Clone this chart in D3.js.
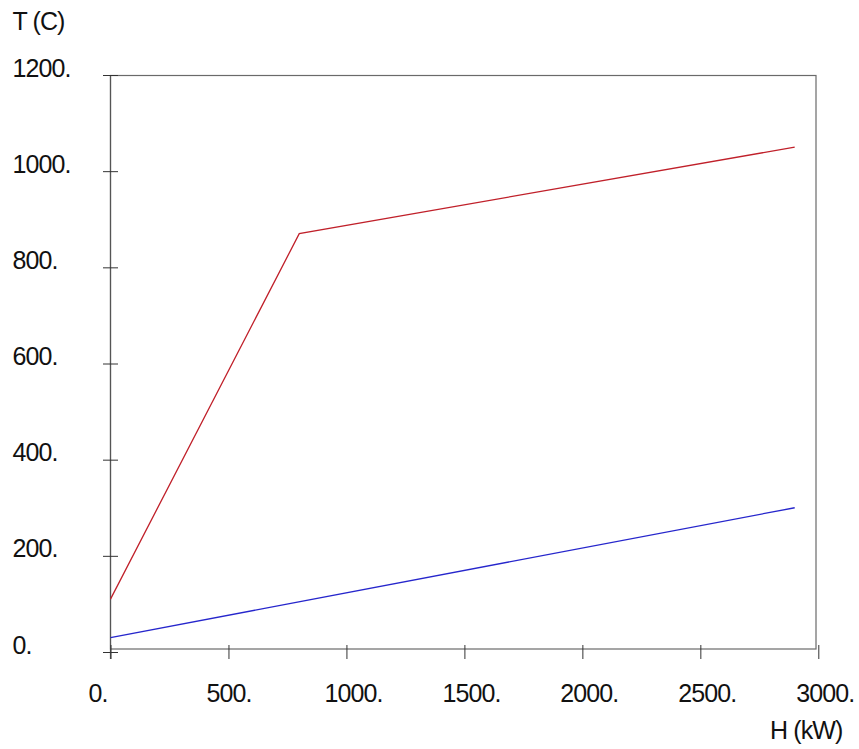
<!DOCTYPE html>
<html>
<head>
<meta charset="utf-8">
<script src="https://cdn.jsdelivr.net/npm/d3@7"></script>
<style>
  body { margin: 0; background: #fff; }
  text { font-family: "Liberation Sans", Arial, sans-serif; font-size: 25px; letter-spacing: -0.9px; fill: #111; }
</style>
</head>
<body>
<svg width="859" height="749"></svg>
<script>
// H (kW) and T (C) values
const hotH = [0, 800, 2900];
const hotT = [110, 870, 1050];
const coldH = [0, 2900];
const coldT = [30, 300];

const xTicks = [0, 500, 1000, 1500, 2000, 2500, 3000];
const yTicks = [0, 200, 400, 600, 800, 1000, 1200];

const svg = d3.select("svg");

const x = d3.scaleLinear().domain([0, 3000]).range([110.5, 818.3]);
const y = d3.scaleLinear().domain([0, 1200]).range([652, 75]);

// frame
svg.append("rect")
  .attr("x", 110.5).attr("y", 75.5)
  .attr("width", 816 - 110.5).attr("height", 649 - 75.5)
  .attr("fill", "none")
  .attr("stroke", "#6a6a6a")
  .attr("stroke-width", 1.2);

// left axis line runs a little below the frame
svg.append("line")
  .attr("x1", 110.5).attr("x2", 110.5)
  .attr("y1", 75).attr("y2", 659)
  .attr("stroke", "#555").attr("stroke-width", 1.2);

// x ticks
const gx = svg.append("g")
  .attr("transform", "translate(0,645)")
  .call(d3.axisBottom(x).tickValues(xTicks).tickSize(14).tickFormat(""));
gx.select(".domain").remove();
gx.selectAll(".tick line").attr("stroke", "#333");

// y ticks
const gy = svg.append("g")
  .attr("transform", "translate(103,0)")
  .call(d3.axisRight(y).tickValues(yTicks).tickSize(15).tickFormat(""));
gy.select(".domain").remove();
gy.selectAll(".tick line").attr("stroke", "#333");

// tick labels (left aligned, like the original)
svg.append("g").selectAll("text")
  .data(xTicks)
  .join("text")
    .attr("x", d => x(d) - 22)
    .attr("y", 701.5)
    .text(d => d + ".");

svg.append("g").selectAll("text")
  .data(yTicks)
  .join("text")
    .attr("x", 12.5)
    .attr("y", d => y(d) + 1.5)
    .text(d => d + ".");

// axis titles
svg.append("text").attr("x", 12.5).attr("y", 29.5).text("T (C)");
svg.append("text").attr("x", 770).attr("y", 738.5).text("H (kW)");

// lines
const line = d3.line().x(d => x(d[0])).y(d => y(d[1]));

svg.append("path")
  .datum(hotH.map((h, i) => [h, hotT[i]]))
  .attr("d", line)
  .attr("fill", "none")
  .attr("stroke", "#c0202a")
  .attr("stroke-width", 1.3);

svg.append("path")
  .datum(coldH.map((h, i) => [h, coldT[i]]))
  .attr("d", line)
  .attr("fill", "none")
  .attr("stroke", "#2626cc")
  .attr("stroke-width", 1.3);
</script>
</body>
</html>
